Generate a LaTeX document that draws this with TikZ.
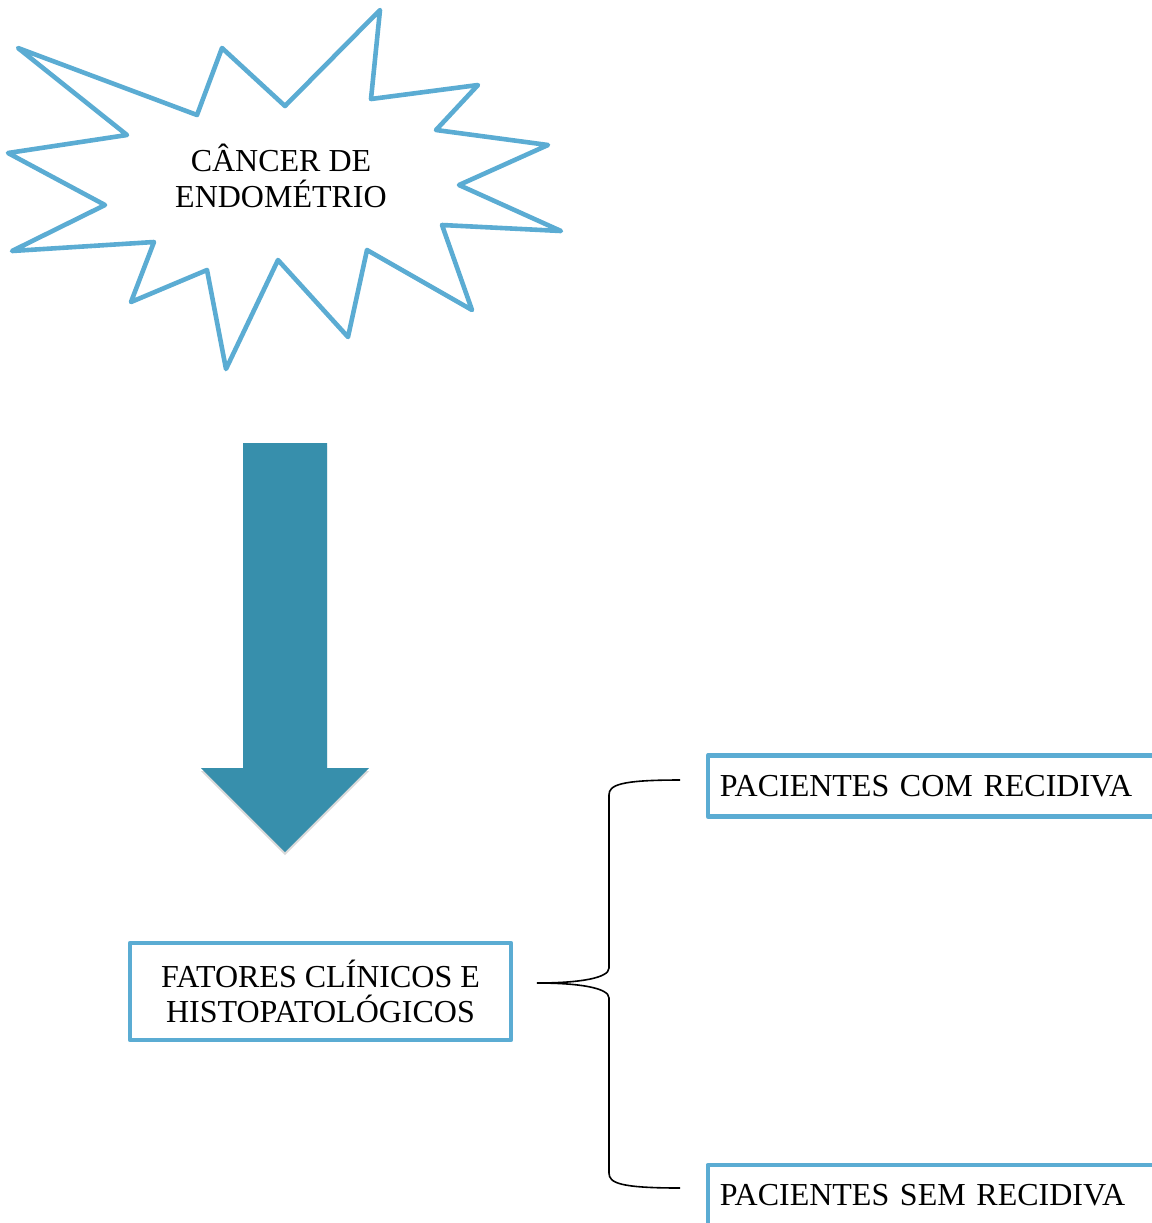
\documentclass[tikz,border=0pt]{standalone}
\usepackage{fontspec}
\setmainfont{Liberation Serif}
\usepackage{xcolor}
\usepackage{tikz}
\usetikzlibrary{positioning,shadows}
\definecolor{lineblue}{RGB}{91,172,211}
\definecolor{arrowteal}{RGB}{55,143,172}

\begin{document}
\begin{tikzpicture}[x=0.5pt, y=-0.5pt,
  every node/.style={font=\fontsize{16}{18.3}\selectfont},
  box/.style={draw=lineblue, line width=2.3pt, line join=round, inner sep=0pt}]
\path[use as bounding box, clip] (0,0) rectangle (1152,1223);

% star
\draw[lineblue, line width=2.3pt, line join=round]
  (380,10) -- (371,99) -- (478,85) -- (436,130) -- (548,145) -- (459,185)
  -- (561,231) -- (442,225) -- (472,310) -- (367,250) -- (348,337) -- (278,260)
  -- (226,369) -- (207,270) -- (131,302) -- (154,242) -- (12,251) -- (105,205)
  -- (8,153) -- (127,135) -- (18,48) -- (197,115) -- (222,48) -- (285,106) -- cycle;
\node[align=center] (s1) at (281,176) {CÂNCER DE\\ENDOMÉTRIO};

% arrow
\fill[arrowteal, drop shadow={opacity=0.3, shadow xshift=0pt, shadow yshift=-1.5pt}]
  (243,443) -- (327,443) -- (327,768) -- (369,768) -- (285,852) -- (201,768) -- (243,768) -- cycle;

\node[box, align=center, minimum width=190.5pt, minimum height=48.5pt] (f1) at (320.5,991.5) {FATORES CLÍNICOS E\\[-1pt]HISTOPATOLÓGICOS};
\node[box, anchor=west, align=left, minimum height=30.5pt, text width=260pt, inner xsep=6pt] (r1) at (705.5,786) {PACIENTES COM RECIDIVA};
\node[box, below=172pt of r1, align=left, minimum height=30.5pt, text width=260pt, inner xsep=6pt] (r2) {PACIENTES SEM RECIDIVA};

% brace
\coordinate (b1) at (680,780);
\coordinate (b0) at (537,983);
\coordinate (b2) at (680,1188);
\draw[line width=0.8pt] (b1) .. controls (620,780) and (609,785) .. (609,795) -- (609,968)
  .. controls (609,978) and (580,983) .. (b0)
  .. controls (580,983) and (609,988) .. (609,998) -- (609,1173)
  .. controls (609,1183) and (620,1188) .. (b2);

\end{tikzpicture}
\end{document}
